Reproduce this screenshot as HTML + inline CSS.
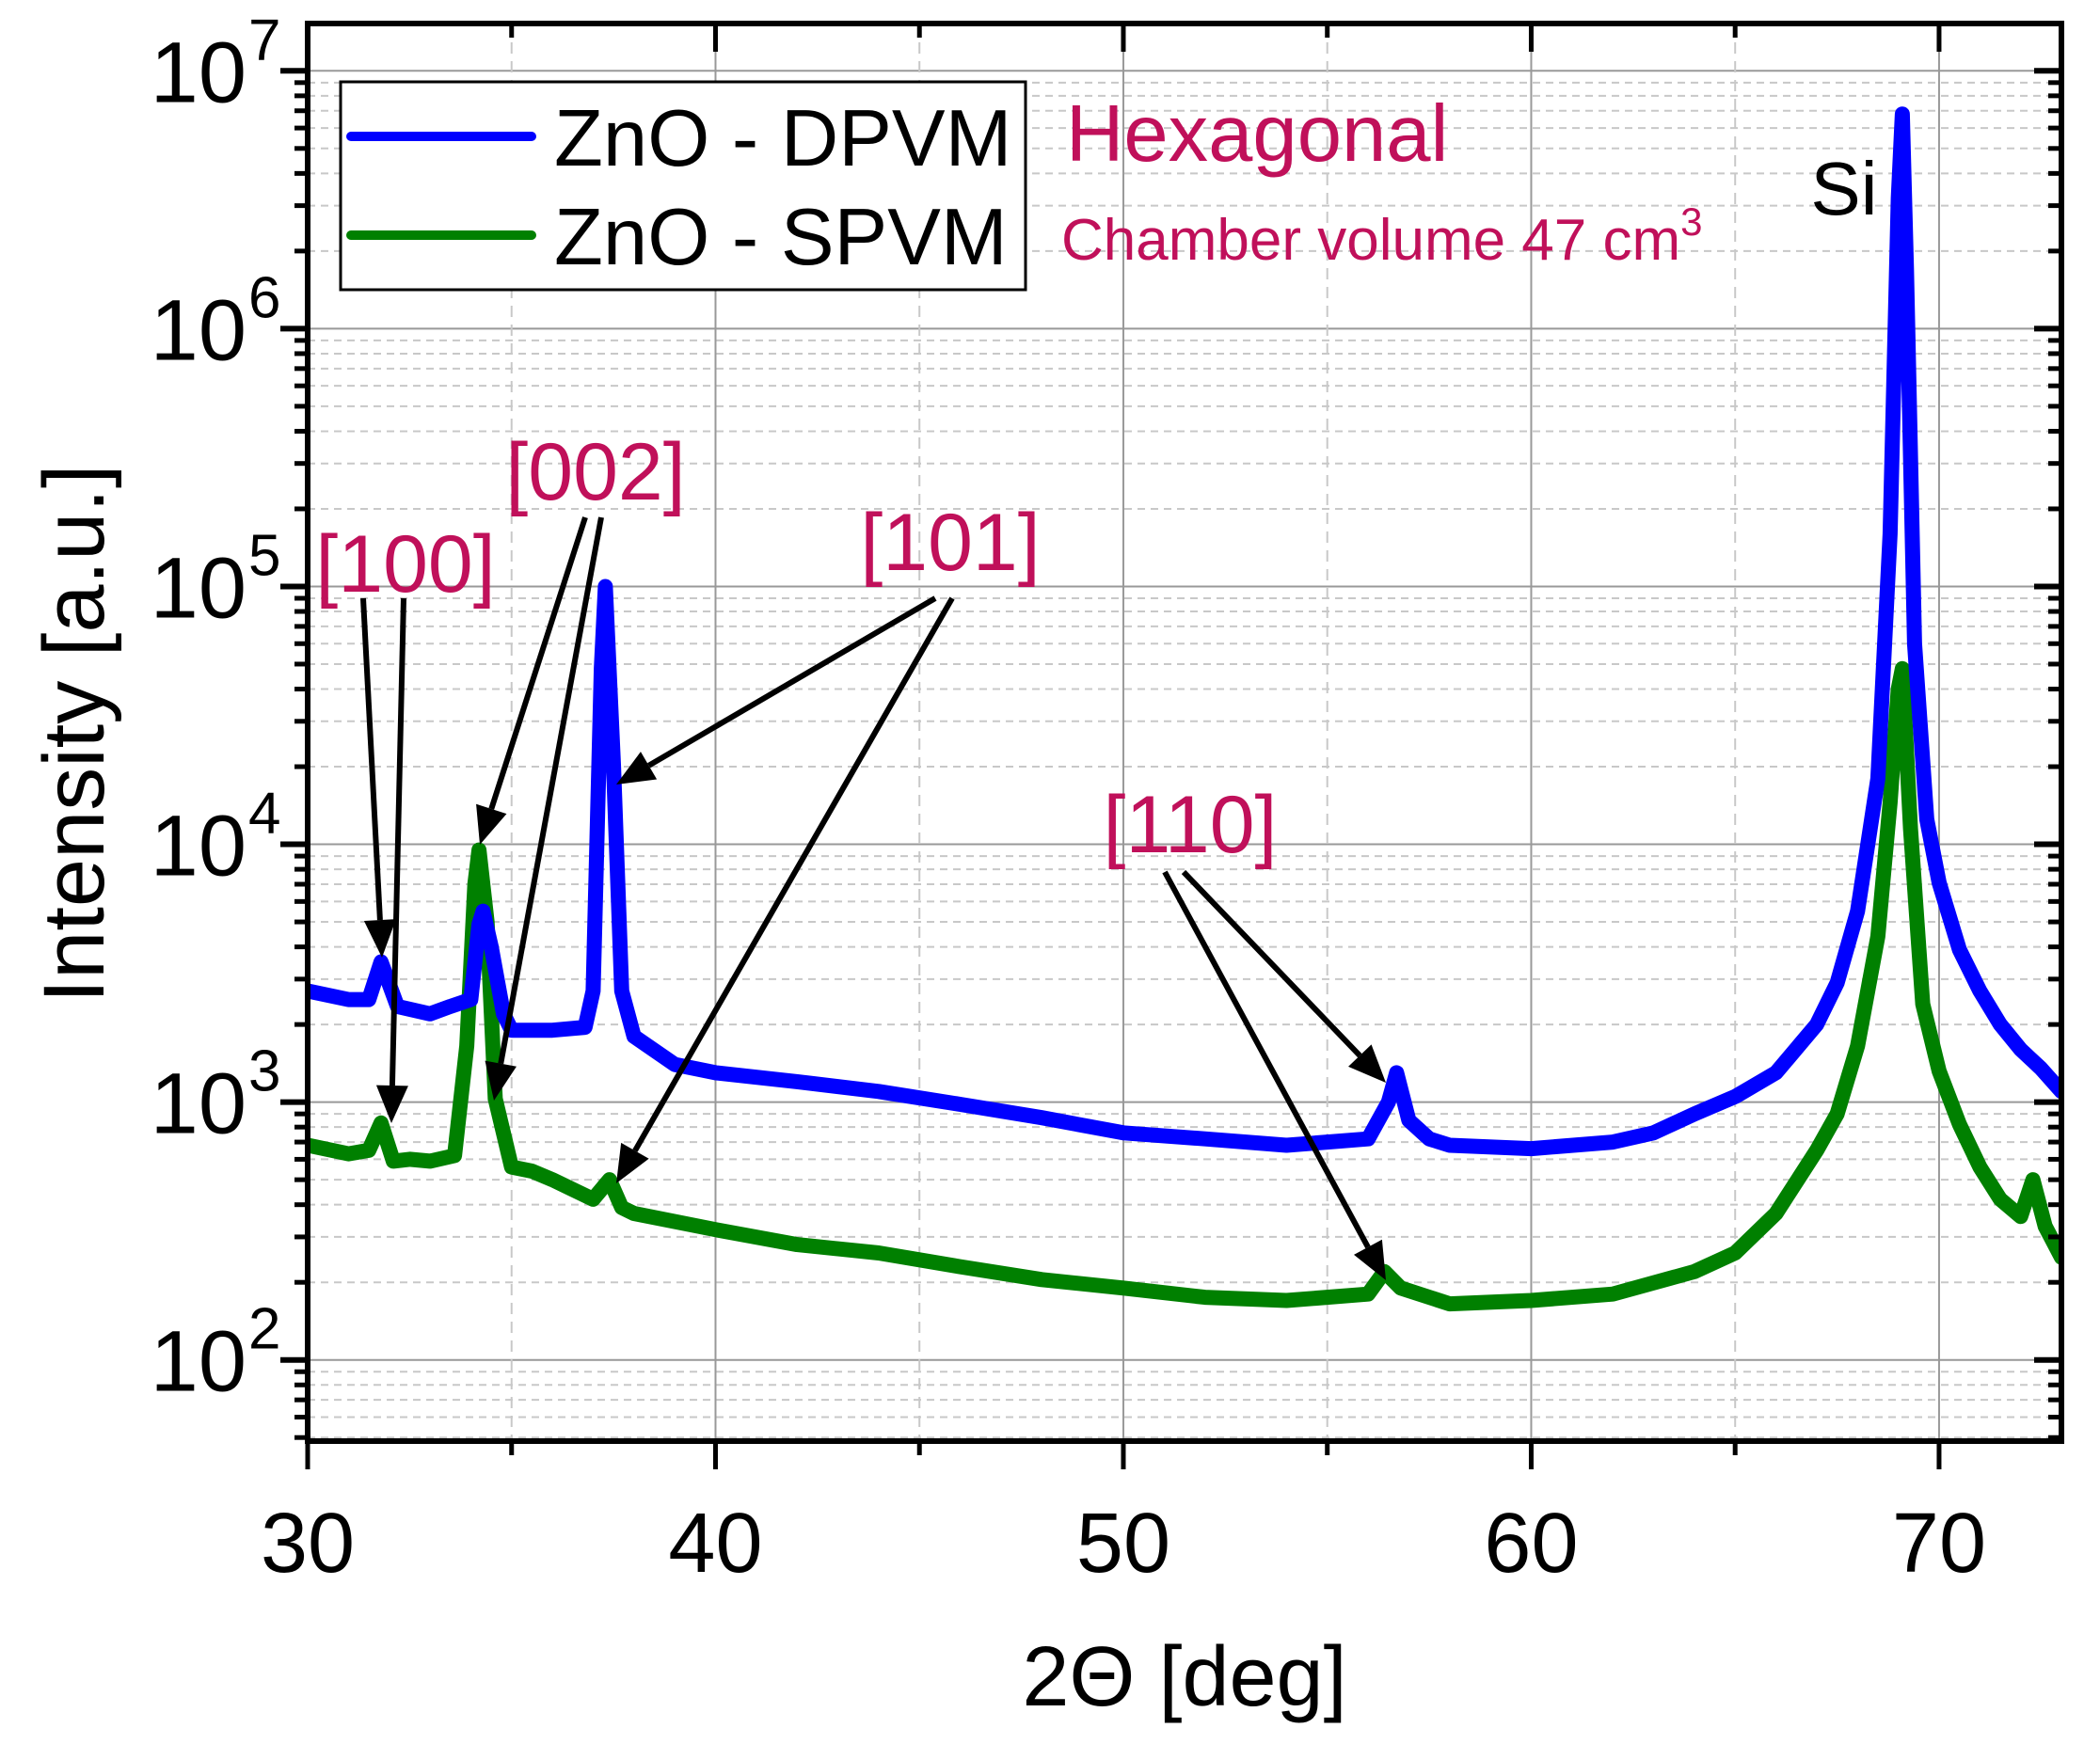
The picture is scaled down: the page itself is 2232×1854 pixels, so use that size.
<!DOCTYPE html>
<html><head><meta charset="utf-8"><style>
html,body{margin:0;padding:0;background:#fff;}
svg{display:block;font-family:"Liberation Sans",Arial,sans-serif;}
</style></head><body>
<svg id="chart" width="2232" height="1854" viewBox="0 0 2232 1854" xmlns="http://www.w3.org/2000/svg">
<defs><clipPath id="clip"><rect x="327" y="25" width="1864" height="1507"/></clipPath></defs>
<g id="grid"></g>
<g id="series" clip-path="url(#clip)"></g>
<g id="axes"></g>
<g id="annot"></g>
</svg>
<script>
// ---- data ----
const xTicks = [30, 40, 50, 60, 70];
const xMinor = [35, 45, 55, 65];
const yDecades = [2, 3, 4, 5, 6, 7];
const dpvmX = [30,31,31.5,31.8,32.2,33,33.5,34.0,34.2,34.3,34.5,34.8,35,36,36.8,37.0,37.2,37.3,37.5,37.7,38,39,40,42,44,46,48,50,52,54,55,56,56.5,56.7,57,57.5,58,60,62,63,64,65,66,67,67.5,68,68.5,68.8,69.0,69.1,69.2,69.4,69.7,70,70.5,71,71.5,72,72.5,73];
const dpvmY = [2700,2500,2500,3500,2350,2200,2350,2500,4900,5500,4000,2200,1900,1900,1950,2700,48000,100000,20000,2700,1800,1400,1300,1200,1100,980,870,760,720,680,700,720,1000,1300,850,720,680,660,700,760,900,1050,1300,2000,2900,5500,18000,160000,3200000,6800000,1700000,60000,12500,7100,3900,2700,2000,1600,1350,1100];
const spvmX = [30,31,31.5,31.8,32.1,32.5,33,33.6,33.9,34.1,34.2,34.4,34.6,35,35.5,36,37,37.4,37.7,38,40,42,44,46,48,50,52,54,56,56.4,56.8,58,60,62,64,65,66,67,67.5,68,68.5,68.8,69.0,69.1,69.3,69.6,70,70.5,71,71.5,72,72.3,72.6,73];
const spvmY = [680,630,650,830,590,600,590,620,1650,7000,9500,5000,1030,560,540,500,420,500,390,370,320,280,260,230,205,190,175,170,180,220,190,165,170,180,220,260,370,650,900,1650,4400,14500,40000,48000,11500,2400,1320,820,560,420,360,500,330,250];

// ---- axes mapping ----
const L=327,R=2191,T=25,B=1532;
const X0=30,X1=73;
const Y10_7=75.3, Y10_2=1445.7;
const dec=(Y10_2-Y10_7)/5;
function sx(v){return L+(v-X0)*(R-L)/(X1-X0);}
function sy(v){return Y10_2-(Math.log10(v)-2)*dec;}
const NS="http://www.w3.org/2000/svg";
function mk(tag,attrs,parent){const e=document.createElementNS(NS,tag);for(const k in attrs)e.setAttribute(k,attrs[k]);parent.appendChild(e);return e;}
const grid=document.getElementById('grid'),axes=document.getElementById('axes'),ser=document.getElementById('series'),ann=document.getElementById('annot');

// grid
for(const d of yDecades){
  for(let m=2;m<=9;m++){const y=sy(m*Math.pow(10,d-1));if(y<T||y>B)continue;
    const g=mk('line',{x1:L,x2:R,y1:y,y2:y,stroke:'#c8c8c8','stroke-width':2,'stroke-dasharray':'8 6'},grid);
    
    }
  const y=sy(Math.pow(10,d));
  const g=mk('line',{x1:L,x2:R,y1:y,y2:y,stroke:'#999','stroke-width':2},grid);
  
  
}
for(const v of xMinor){const g=mk('line',{x1:sx(v),x2:sx(v),y1:T,y2:B,stroke:'#c8c8c8','stroke-width':2,'stroke-dasharray':'12 8'},grid);
  
  }
for(const v of xTicks){const g=mk('line',{x1:sx(v),x2:sx(v),y1:T,y2:B,stroke:'#999','stroke-width':2},grid);
  
  }

// series
function path(xs,ys){return xs.map((x,i)=>(i?'L':'M')+sx(x).toFixed(1)+' '+sy(ys[i]).toFixed(1)).join(' ');}
const pg=mk('path',{d:path(spvmX,spvmY),fill:'none',stroke:'#008000','stroke-width':16,'stroke-linejoin':'round','stroke-linecap':'round'},ser);


const pb=mk('path',{d:path(dpvmX,dpvmY),fill:'none',stroke:'#0000ff','stroke-width':16,'stroke-linejoin':'round','stroke-linecap':'round'},ser);



// axis ticks
for(const d of yDecades){
  for(let m=2;m<=9;m++){const y=sy(m*Math.pow(10,d-1));if(y<T||y>B)continue;
    mk('line',{x1:L-14,x2:L,y1:y,y2:y,stroke:'#000','stroke-width':5},axes);
    mk('line',{x1:R-14,x2:R,y1:y,y2:y,stroke:'#000','stroke-width':5},axes);}
  const y=sy(Math.pow(10,d));
  mk('line',{x1:L-29,x2:L,y1:y,y2:y,stroke:'#000','stroke-width':6},axes);
  mk('line',{x1:R-29,x2:R,y1:y,y2:y,stroke:'#000','stroke-width':6},axes);
  const t=mk('text',{x:262,y:y+33,'font-size':92,'text-anchor':'end',fill:'#000'},axes);
  t.textContent='10';
  
  
  const s=mk('text',{x:264,y:y-12,'font-size':62,fill:'#000'},axes);
  s.textContent=String(d);
  
  
}
for(const v of xTicks){
  mk('line',{x1:sx(v),x2:sx(v),y1:B,y2:B+30,stroke:'#000','stroke-width':5},axes);
  mk('line',{x1:sx(v),x2:sx(v),y1:T,y2:T+30,stroke:'#000','stroke-width':5},axes);
  const t=mk('text',{x:sx(v),y:1671,'font-size':90,'text-anchor':'middle',fill:'#000'},axes);
  t.textContent=String(v);
  
  
}
for(const v of xMinor){
  mk('line',{x1:sx(v),x2:sx(v),y1:B,y2:B+15,stroke:'#000','stroke-width':5},axes);
  mk('line',{x1:sx(v),x2:sx(v),y1:T,y2:T+15,stroke:'#000','stroke-width':5},axes);
}
const frame=mk('rect',{x:L,y:T,width:R-L,height:B-T,fill:'none',stroke:'#000','stroke-width':6},axes);



// arrows
const arrows=[[386,636,406,1018],[429,636,416,1194],[622,550,510,898],[639,550,525,1170],[994,636,655,834],[1012,636,655,1258],[1258,927,1473,1151],[1238,927,1473,1361]];
for(const a of arrows){
  const [x1,y1,x2,y2]=a;const dx=x2-x1,dy=y2-y1,len=Math.hypot(dx,dy),ux=dx/len,uy=dy/len;
  const hl=40,hw=17;const bx=x2-ux*hl,by=y2-uy*hl;
  const g=mk('g',{},ann);
  
  
  mk('line',{x1:x1,y1:y1,x2:bx,y2:by,stroke:'#000','stroke-width':6},g);
  mk('polygon',{points:`${x2},${y2} ${bx-uy*hw},${by+ux*hw} ${bx+uy*hw},${by-ux*hw}`,fill:'#000'},g);
}
</script>
<svg style="position:absolute;left:0;top:0" width="2232" height="1854" viewBox="0 0 2232 1854" xmlns="http://www.w3.org/2000/svg" font-family="Liberation Sans, Arial, sans-serif">
<g>
<rect x="362" y="87" width="728" height="221" fill="#fff" stroke="#000" stroke-width="3"/>
<line x1="373" y1="145" x2="565" y2="145" stroke="#0000ff" stroke-width="10" stroke-linecap="round"/>
<text x="589" y="176" font-size="85" fill="#000">ZnO - DPVM</text>
<line x1="373" y1="250" x2="565" y2="250" stroke="#008000" stroke-width="10" stroke-linecap="round"/>
<text x="589" y="281" font-size="85" fill="#000">ZnO - SPVM</text>
</g>
<text x="1133" y="171" font-size="85" fill="#C0105A">Hexagonal</text>
<text x="1128" y="276" font-size="62" fill="#C0105A">Chamber volume 47 cm<tspan dy="-26" font-size="42">3</tspan></text>
<text x="1960" y="228" font-size="80" fill="#000" text-anchor="middle">Si</text>
<text x="431" y="629" font-size="86" fill="#C0105A" text-anchor="middle">[100]</text>
<text x="633" y="531" font-size="86" fill="#C0105A" text-anchor="middle">[002]</text>
<text x="1010" y="606" font-size="86" fill="#C0105A" text-anchor="middle">[101]</text>
<text x="1265" y="906" font-size="86" fill="#C0105A" text-anchor="middle">[110]</text>
<text x="1259" y="1813" font-size="90" fill="#000" text-anchor="middle">2Θ [deg]</text>
<text x="0" y="0" font-size="92" fill="#000" text-anchor="middle" transform="translate(110,780) rotate(-90)">Intensity [a.u.]</text>
</svg>
</body></html>
